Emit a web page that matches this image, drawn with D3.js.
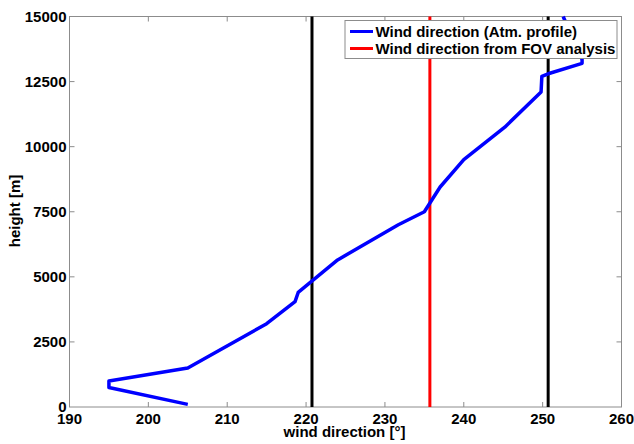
<!DOCTYPE html>
<meta charset="utf-8">
<style>
body { margin: 0; background: #fff; }
text { font-family: "Liberation Sans", Arial, sans-serif; font-weight: bold; fill: #000; }
</style>
<body>
<script src="https://d3js.org/d3.v7.min.js"></script>
<script>

// wind direction profile (deg) against height (m)
var direction = [205, 195, 195, 205, 215, 218.6, 219, 224, 231.7, 235, 237, 240, 245.2, 249.8, 249.9, 250.7, 255, 255, 252.6];
var height = [100, 750, 1000, 1500, 3200, 4050, 4400, 5650, 7000, 7500, 8450, 9500, 10750, 12100, 12700, 12800, 13200, 13350, 15000];

var blackLines = [220.75, 250.7];
var redLine = [235.7];

var xTicks = [190, 200, 210, 220, 230, 240, 250, 260];
var yTicks = [0, 2500, 5000, 7500, 10000, 12500, 15000];

var legendLabels = ["Wind direction (Atm. profile)", "Wind direction from FOV analysis"];
var legendColors = ["#0000ff", "#ff0000"];

var margin = {top: 16.5, right: 12.5, bottom: 37, left: 69.5},
    W = 634, H = 444,
    width = W - margin.left - margin.right,
    height_ = H - margin.top - margin.bottom;

var svg = d3.select("body").append("svg")
    .attr("width", W)
    .attr("height", H);

var g = svg.append("g")
    .attr("transform", "translate(" + margin.left + "," + margin.top + ")");

var x = d3.scaleLinear().domain([190, 260]).range([0, width]);
var y = d3.scaleLinear().domain([0, 15000]).range([height_, 0]);

var axisColor = "#8c8c8c";
var fs = "15px";

// box
g.append("rect")
    .attr("width", width)
    .attr("height", height_)
    .attr("fill", "none")
    .attr("stroke", axisColor)
    .attr("stroke-width", 1);

// inner ticks on all four sides
var tl = 5;
g.selectAll(".xt").data(xTicks.slice(1, -1)).enter().append("path")
    .attr("d", function(d) { return "M" + x(d) + "," + height_ + "v" + (-tl) + "M" + x(d) + ",0v" + tl; })
    .attr("stroke", axisColor);
g.selectAll(".yt").data(yTicks.slice(1, -1)).enter().append("path")
    .attr("d", function(d) { return "M0," + y(d) + "h" + tl + "M" + width + "," + y(d) + "h" + (-tl); })
    .attr("stroke", axisColor);

// tick labels
g.selectAll(".xl").data(xTicks).enter().append("text")
    .attr("x", function(d) { return x(d); })
    .attr("y", height_ + 17)
    .attr("text-anchor", "middle")
    .style("font-size", fs)
    .text(function(d) { return d; });

g.selectAll(".yl").data(yTicks).enter().append("text")
    .attr("x", -3)
    .attr("y", function(d) { return y(d); })
    .attr("dy", "0.36em")
    .attr("text-anchor", "end")
    .style("font-size", fs)
    .text(function(d) { return d; });

// axis labels
svg.append("text")
    .attr("x", margin.left + width / 2 - 1)
    .attr("y", 437)
    .attr("text-anchor", "middle")
    .style("font-size", fs)
    .text("wind direction [°]");

svg.append("text")
    .attr("transform", "translate(19.5,211) rotate(-90)")
    .attr("text-anchor", "middle")
    .style("font-size", fs)
    .text("height [m]");

// vertical reference lines
g.selectAll(".bl").data(blackLines).enter().append("line")
    .attr("x1", function(d) { return x(d); })
    .attr("x2", function(d) { return x(d); })
    .attr("y1", 0).attr("y2", height_)
    .attr("stroke", "#000").attr("stroke-width", 3);

g.selectAll(".rl").data(redLine).enter().append("line")
    .attr("x1", function(d) { return x(d); })
    .attr("x2", function(d) { return x(d); })
    .attr("y1", 0).attr("y2", height_)
    .attr("stroke", "#ff0000").attr("stroke-width", 3);

// profile
var line = d3.line()
    .x(function(d, i) { return x(direction[i]); })
    .y(function(d, i) { return y(height[i]); });

g.append("path")
    .datum(direction)
    .attr("d", line)
    .attr("fill", "none")
    .attr("stroke", "#0000ff")
    .attr("stroke-width", 3.5)
    .attr("stroke-linejoin", "round");

// legend
var leg = svg.append("g").attr("transform", "translate(345,20.5)");
leg.append("rect")
    .attr("width", 272)
    .attr("height", 38)
    .attr("fill", "#fff")
    .attr("stroke", axisColor);

var item = leg.selectAll(".li").data(legendLabels).enter().append("g")
    .attr("transform", function(d, i) { return "translate(0," + (11 + i * 17) + ")"; });
item.append("line")
    .attr("x1", 5).attr("x2", 28)
    .attr("stroke", function(d, i) { return legendColors[i]; })
    .attr("stroke-width", 3);
item.append("text")
    .attr("x", 30.5)
    .attr("dy", "0.36em")
    .style("font-size", fs)
    .text(function(d) { return d; });

</script>
</body>
